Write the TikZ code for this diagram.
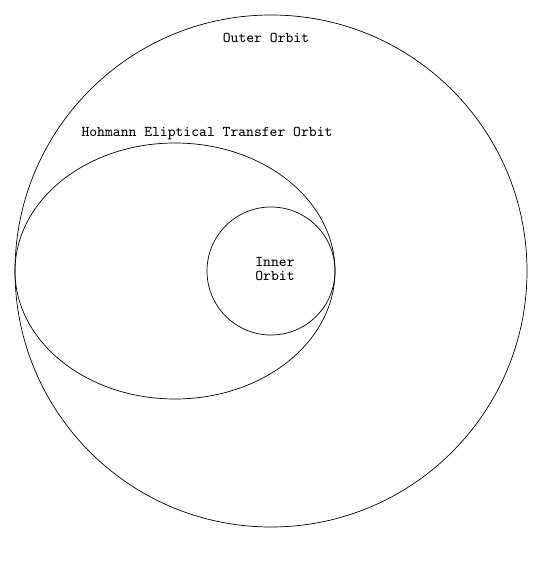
\documentclass[tikz,border=0pt]{standalone}
\usepackage{xcolor}
\usepackage{tikz}

\begin{document}
\begin{tikzpicture}[x=0.02cm, y=-0.02cm]%
\useasboundingbox (0,0) rectangle (543.000000, 584.000000);%
\draw (271.000000, 271.000000) circle (256.000000);%
\draw (175.000000, 271.000000) ellipse [x radius=160.000000, y radius=128.000000];%
\draw (271.000000, 271.000000) circle (64.000000);%
\node[font=\ttfamily\fontsize{8.5}{7.9}\selectfont] (outer) at (266.000000, 38.000000) {Outer Orbit};%
\node[font=\ttfamily\fontsize{8.5}{7.9}\selectfont] (transfer) at (207.000000, 134.000000) {Hohmann Eliptical Transfer Orbit};%
\node[font=\ttfamily\fontsize{8.5}{7.9}\selectfont, align=center] (inner) at (275.000000, 269.000000) {Inner\\Orbit};%
\end{tikzpicture}
\end{document}
